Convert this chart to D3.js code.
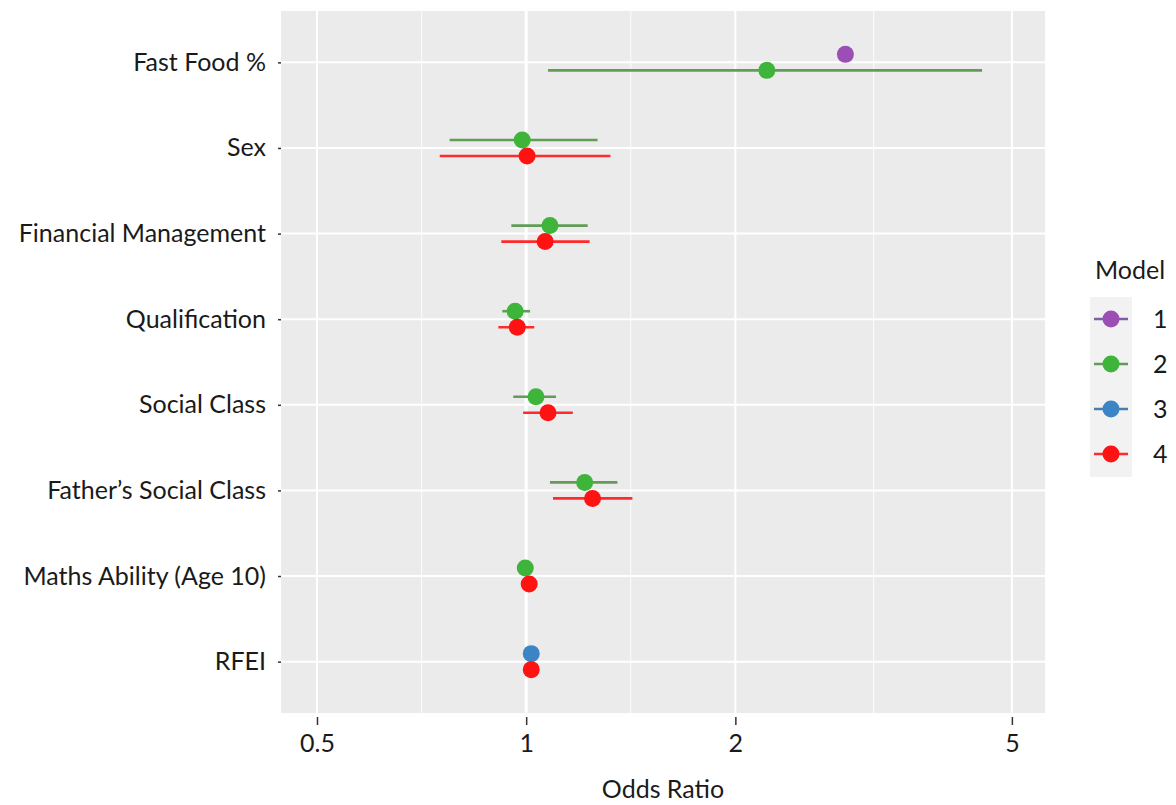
<!DOCTYPE html>
<html lang="en">
<head>
<meta charset="utf-8">
<title>Odds Ratio forest plot</title>
<script src="https://cdn.jsdelivr.net/npm/d3@7"></script>
<style>
  body { margin: 0; background: #fff; }
  text { font-family: Lato, "Open Sans", sans-serif; fill: #1a1a1a; }
</style>
</head>
<body>
<script>
// categories, top to bottom
var categories = ["Fast Food %", "Sex", "Financial Management", "Qualification",
                  "Social Class", "Father\u2019s Social Class", "Maths Ability (Age 10)", "RFEI"];
var models = ["1", "2", "3", "4"];
var xTicks = [0.5, 1, 2, 5];

// odds ratios per model (null = not in model)
var model1Est = [2.88, null, null, null, null, null, null, null];
var model1Lo  = [null, null, null, null, null, null, null, null];
var model1Hi  = [null, null, null, null, null, null, null, null];

var model2Est = [2.22, 0.987, 1.082, 0.964, 1.033, 1.214, 0.997, null];
var model2Lo  = [1.075, 0.776, 0.952, 0.924, 0.958, 1.082, 0.99, null];
var model2Hi  = [4.53, 1.267, 1.226, 1.013, 1.104, 1.353, 1.005, null];

var model3Est = [null, null, null, null, null, null, null, 1.017];
var model3Lo  = [null, null, null, null, null, null, null, 1.012];
var model3Hi  = [null, null, null, null, null, null, null, 1.022];

var model4Est = [null, 1.003, 1.065, 0.971, 1.075, 1.246, 1.01, 1.017];
var model4Lo  = [null, 0.751, 0.921, 0.912, 0.99, 1.093, 1.003, 1.011];
var model4Hi  = [null, 1.322, 1.234, 1.027, 1.167, 1.422, 1.017, 1.023];

var pointColor = ["#9b4fb4", "#3fb43a", "#3b84c5", "#ff1212"];
var lineColor  = ["#7d5fa3", "#629c56", "#4a7db3", "#ff2a2a"];

var width = 1176, height = 805,
    panel = {left: 281, right: 1045, top: 11, bottom: 713},
    fontSize = 25;

var svg = d3.select("body").append("svg")
    .attr("width", width)
    .attr("height", height);

var x = d3.scaleLog()
    .domain([0.4438, 5.58])
    .range([panel.left, panel.right]);

var y = d3.scalePoint()
    .domain(categories)
    .range([panel.top, panel.bottom])
    .padding(0.6);

var color = d3.scaleOrdinal().domain(models).range(pointColor);
var lcolor = d3.scaleOrdinal().domain(models).range(lineColor);

// long table built from the arrays
var est = [model1Est, model2Est, model3Est, model4Est],
    lo = [model1Lo, model2Lo, model3Lo, model4Lo],
    hi = [model1Hi, model2Hi, model3Hi, model4Hi];
var rows = [];
categories.forEach(function(c, i) {
  var present = models.filter(function(m, j) { return est[j][i] != null; });
  present.forEach(function(m, k) {
    var j = models.indexOf(m);
    rows.push({cat: c, model: m, est: est[j][i], lo: lo[j][i], hi: hi[j][i],
               dodge: (k - (present.length - 1) / 2) * 16});
  });
});

// panel background
svg.append("rect")
    .attr("x", panel.left).attr("y", panel.top)
    .attr("width", panel.right - panel.left)
    .attr("height", panel.bottom - panel.top)
    .attr("fill", "#ebebeb");

// minor grid (log midpoints between breaks)
var minor = [];
for (var i = 0; i < xTicks.length - 1; i++) minor.push(Math.sqrt(xTicks[i] * xTicks[i + 1]));
svg.append("g").selectAll("line").data(minor).enter().append("line")
    .attr("x1", function(d) { return x(d); }).attr("x2", function(d) { return x(d); })
    .attr("y1", panel.top).attr("y2", panel.bottom)
    .attr("stroke", "#fafafa").attr("stroke-width", 1.2);

// major grid
svg.append("g").selectAll("line").data(xTicks).enter().append("line")
    .attr("x1", function(d) { return x(d); }).attr("x2", function(d) { return x(d); })
    .attr("y1", panel.top).attr("y2", panel.bottom)
    .attr("stroke", "#fff").attr("stroke-width", function(d) { return d === 1 ? 3 : 2; });

svg.append("g").selectAll("line").data(categories).enter().append("line")
    .attr("x1", panel.left).attr("x2", panel.right)
    .attr("y1", function(d) { return y(d); }).attr("y2", function(d) { return y(d); })
    .attr("stroke", "#fff").attr("stroke-width", 2);

// x axis
var xAxis = svg.append("g")
    .attr("transform", "translate(0," + panel.bottom + ")")
    .call(d3.axisBottom(x).tickValues(xTicks).tickFormat(d3.format("")).tickSize(12).tickPadding(9));
xAxis.select(".domain").remove();
xAxis.selectAll(".tick line").attr("stroke", "#333").attr("stroke-width", 1.5).attr("y1", 4);
xAxis.selectAll(".tick text").attr("font-size", fontSize).attr("fill", "#1a1a1a")
    .style("font-family", "Lato, 'Open Sans', sans-serif");

// y axis
var yAxis = svg.append("g")
    .attr("transform", "translate(" + panel.left + ",0)")
    .call(d3.axisLeft(y).tickSize(9).tickPadding(6));
yAxis.select(".domain").remove();
yAxis.selectAll(".tick line").attr("stroke", "#333").attr("stroke-width", 1.5).attr("x2", -3);
yAxis.selectAll(".tick text").attr("font-size", fontSize).attr("fill", "#1a1a1a")
    .style("font-family", "Lato, 'Open Sans', sans-serif");

svg.append("text")
    .attr("x", (panel.left + panel.right) / 2)
    .attr("y", 798)
    .attr("text-anchor", "middle")
    .attr("font-size", fontSize)
    .text("Odds Ratio");

// error bars
svg.append("g").selectAll("line")
    .data(rows.filter(function(d) { return d.lo != null; }))
    .enter().append("line")
    .attr("x1", function(d) { return x(d.lo); })
    .attr("x2", function(d) { return x(d.hi); })
    .attr("y1", function(d) { return y(d.cat) + d.dodge; })
    .attr("y2", function(d) { return y(d.cat) + d.dodge; })
    .attr("stroke", function(d) { return lcolor(d.model); })
    .attr("stroke-width", 2.6);

// points
svg.append("g").selectAll("circle")
    .data(rows)
    .enter().append("circle")
    .attr("cx", function(d) { return x(d.est); })
    .attr("cy", function(d) { return y(d.cat) + d.dodge; })
    .attr("r", 8.5)
    .attr("fill", function(d) { return color(d.model); });

// legend
var legend = svg.append("g").attr("transform", "translate(1090,0)");
legend.append("text")
    .attr("x", 5).attr("y", 279)
    .attr("font-size", fontSize)
    .text("Model");
legend.append("rect")
    .attr("x", 0).attr("y", 297)
    .attr("width", 42).attr("height", 180)
    .attr("fill", "#f2f2f2");

var key = legend.selectAll(".key").data(models).enter().append("g")
    .attr("class", "key")
    .attr("transform", function(d, i) { return "translate(0," + (319 + i * 45) + ")"; });
key.append("line")
    .attr("x1", 4).attr("x2", 38)
    .attr("stroke", function(d) { return lcolor(d); })
    .attr("stroke-width", 2.4);
key.append("circle")
    .attr("cx", 21).attr("r", 8.5)
    .attr("fill", function(d) { return color(d); });
key.append("text")
    .attr("x", 63).attr("dy", "0.35em")
    .attr("font-size", fontSize)
    .text(function(d) { return d; });
</script>
</body>
</html>
